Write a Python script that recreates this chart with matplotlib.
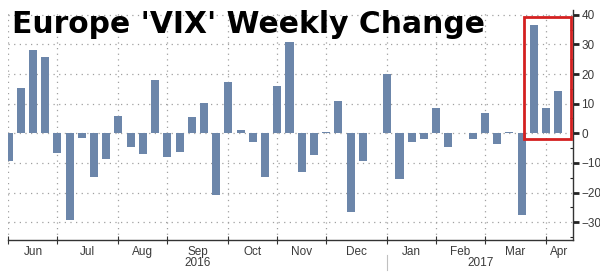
import matplotlib.pyplot as plt
import numpy as np
import pandas as pd
from matplotlib.patches import Rectangle

# weekly changes (%), Fridays from 3 Jun 2016 to 14 Apr 2017
weeks = pd.date_range("2016-06-03", periods=46, freq="7D")
change = [-9.5, 15.2, 28.1, 25.8,
          -6.7, -29.4, -1.5, -14.8, -8.6,
          5.8, -4.7, -7.1, 18.0,
          -7.9, -6.2, 5.4, 10.3, -20.8,
          17.4, 1.1, -3.0, -14.6,
          15.9, 30.9, -12.9, -7.3,
          0.3, 10.9, -26.6, -9.2, 0.2,
          20.0, -15.5, -3.0, -1.9,
          8.7, -4.5, 0.2, -1.9,
          7.0, -3.6, 0.3, -27.5, 36.7,
          8.7, 14.4]
yticks = [-30, -20, -10, 0, 10, 20, 30, 40]
years = ["2016", "2017"]

bar_color = "#6c86aa"
grid_color = "#a0a0a0"
txt_color = "#3a3a3a"
plt.rcParams['font.family'] = ['Liberation Sans Narrow', 'Liberation Sans', 'DejaVu Sans']

fig = plt.figure(figsize=(6, 2.73), dpi=100)
ax = fig.add_axes([8/600, 1-240/273, 565/600, 230/273])

x = np.arange(len(change))
ax.bar(x, change, width=0.66, color=bar_color, zorder=2)
ax.set_xlim(-0.04, 46.2)
ax.set_ylim(-36, 41.6)

# month ticks at first week of each month, labels centred between them
months = [w.month for w in weeks]
starts = [0] + [i for i in range(1, len(weeks)) if months[i] != months[i-1]]
edges = starts + [ax.get_xlim()[1]]
mids = [(edges[i] + edges[i+1]) / 2 for i in range(len(starts))]
ax.set_xticks(starts)
ax.set_xticklabels([])
ax.set_xticks(mids, minor=True)
ax.set_xticklabels([weeks[s].strftime("%b") for s in starts], minor=True)
ax.tick_params(axis='x', which='major', direction='inout', length=6, color='#333333')
ax.tick_params(axis='x', which='minor', length=0, pad=4, labelsize=8.5, labelcolor=txt_color)

# year labels
jan = [s for s in starts if weeks[s].month == 1][0]
yr_pos = [(0 + jan) / 2, (jan + ax.get_xlim()[1]) / 2]
for xp, yl in zip(yr_pos, years):
    ax.text(xp, -0.1, yl, transform=ax.get_xaxis_transform(), ha='center', va='center',
            fontsize=8.5, color=txt_color)
ax.plot([jan, jan], [-0.065, -0.13], transform=ax.get_xaxis_transform(),
        color='#c0c0c0', lw=0.8, clip_on=False)

# y axis on the right
ax.yaxis.tick_right()
ax.set_yticks(yticks)
ax.set_yticks(np.arange(-35, 41, 5), minor=True)
ax.tick_params(axis='y', which='major', direction='out', length=4, width=2,
               pad=2, labelsize=8.5, labelcolor=txt_color, color='#222222')
ax.tick_params(axis='y', which='minor', direction='in', length=2, width=0.8, color='#222222')

for s in ['top', 'left']:
    ax.spines[s].set_visible(False)
for s in ['right', 'bottom']:
    ax.spines[s].set_color('#333333')
    ax.spines[s].set_linewidth(1.0)

ax.grid(True, which='major', linestyle=(0, (1, 3.5)), color=grid_color, lw=0.9, zorder=0)
ax.set_axisbelow(True)

# highlight box on the last three weeks
ax.add_patch(Rectangle((42.2, -2.0), 3.8, 41.4, fill=False, edgecolor='#d42020',
                       lw=2.0, zorder=3))

fig.text(12/600, 1-33/273, "Europe 'VIX' Weekly Change", fontsize=21.4, fontweight='bold',
         family='DejaVu Sans', va='baseline', ha='left', color='black')

fig.savefig("out.png", dpi=100, facecolor='white')
